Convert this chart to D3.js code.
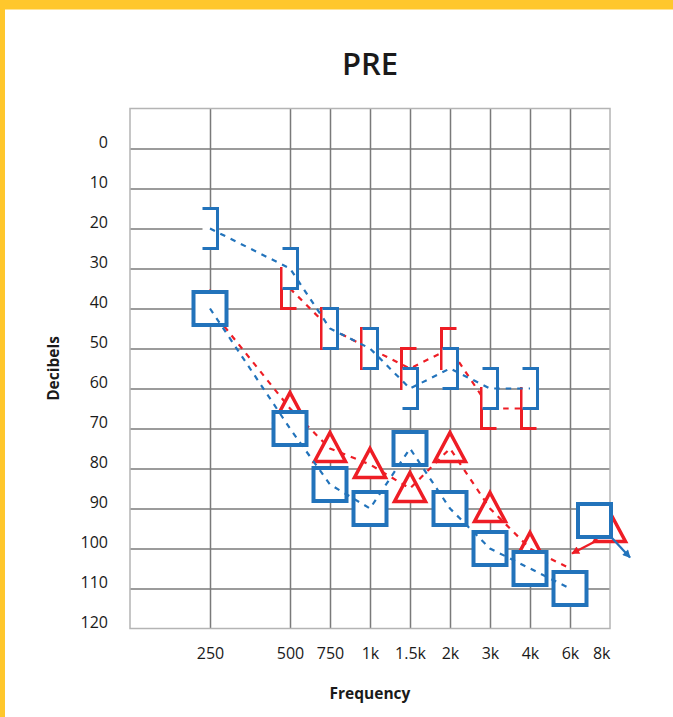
<!DOCTYPE html>
<html>
<head>
<meta charset="utf-8">
<script src="https://cdn.jsdelivr.net/npm/d3@7"></script>
<style>
  body { margin: 0; background: #fff; }
  text { font-family: "Open Sans", sans-serif; fill: #1a1a1a; }
</style>
</head>
<body>
<div id="chart"></div>
<script>
// frequency columns and labels
var freqs = [250, 500, 750, 1000, 1500, 2000, 3000, 4000, 6000, 8000];
var freqLabels = ["250", "500", "750", "1k", "1.5k", "2k", "3k", "4k", "6k", "8k"];
var dbTicks = [0, 10, 20, 30, 40, 50, 60, 70, 80, 90, 100, 110, 120];

// masked air conduction: blue squares, red triangles
var blueAirFreqs = [250, 500, 750, 1000, 1500, 2000, 3000, 4000, 6000];
var blueAirDb = [40, 70, 84, 90, 75, 90, 100, 105, 110];
var redAirFreqs = [250, 500, 750, 1000, 1500, 2000, 3000, 4000, 6000];
var redAirDb = [40, 65, 75, 79, 85, 75, 90, 100, 105];
var redTriangleFreqs = [250, 500, 750, 1000, 1500, 2000, 3000, 4000];

// masked bone conduction: blue "]", red "["
var blueBoneFreqs = [250, 500, 750, 1000, 1500, 2000, 3000, 4000];
var blueBoneDb = [20, 30, 45, 50, 60, 55, 60, 60];
var redBoneFreqs = [500, 750, 1000, 1500, 2000, 3000, 4000];
var redBoneDb = [35, 45, 50, 55, 50, 65, 65];

// no response points
var blueNoRespFreqs = [8000];
var blueNoRespDb = [93];
var redNoRespFreqs = [8000];
var redNoRespDb = [95];

var blue = "#2273bb";
var red = "#ee1d25";
var gridCol = "#7a7a7a";

var W = 673, H = 717;
var margin = {left: 130, top: 108.5};
var width = 480, height = 520;

var svg = d3.select("#chart").append("svg")
    .attr("width", W)
    .attr("height", H);

// yellow frame edges
svg.append("rect").attr("x", 0).attr("y", 0).attr("width", W).attr("height", 9.5).attr("fill", "#ffc72c");
svg.append("rect").attr("x", 0).attr("y", 0).attr("width", 5).attr("height", H).attr("fill", "#ffc72c");

svg.append("text")
    .attr("x", margin.left + width / 2)
    .attr("y", 75)
    .attr("text-anchor", "middle")
    .style("font-size", "31px")
    .style("font-weight", 600)
    .text("PRE");

// x: 125 Hz is the left edge, octave steps are 2 columns up to 500, then 1 column each
var xDomain = [125].concat(freqs);
var x = d3.scaleLinear()
    .domain(xDomain)
    .range(xDomain.map(function(f, i) { return (i <= 2 ? i * 2 : i + 2) * width / 12; }));

var y = d3.scaleLinear()
    .domain([-10, 120])
    .range([0, height]);

var main_g = svg.append("g")
    .attr("transform", "translate(" + margin.left + "," + margin.top + ")");

// grid
main_g.append("g")
    .call(d3.axisLeft(y).tickValues(dbTicks.slice(0, -1)).tickSize(-width).tickFormat(""))
    .call(function(g) { g.select(".domain").remove(); })
    .selectAll("line").attr("stroke", gridCol).attr("stroke-width", 1.5);

main_g.append("g")
    .attr("transform", "translate(0," + height + ")")
    .call(d3.axisBottom(x).tickValues(freqs.slice(0, -1)).tickSize(-height).tickFormat(""))
    .call(function(g) { g.select(".domain").remove(); })
    .selectAll("line").attr("stroke", gridCol).attr("stroke-width", 1.5);

main_g.append("rect")
    .attr("width", width)
    .attr("height", height)
    .attr("fill", "none")
    .attr("stroke", "#b4b4b4")
    .attr("stroke-width", 1.5);

// tick labels
var yAxis = main_g.append("g")
    .call(d3.axisLeft(y).tickValues(dbTicks).tickSize(0).tickPadding(22));
yAxis.select(".domain").remove();
yAxis.selectAll("text").attr("dy", "-1").style("font-size", "16px").attr("fill", "#1a1a1a");

var xAxis = main_g.append("g")
    .attr("transform", "translate(0," + height + ")")
    .call(d3.axisBottom(x).tickValues(freqs).tickSize(0).tickPadding(19)
        .tickFormat(function(d, i) { return freqLabels[i]; }));
xAxis.select(".domain").remove();
xAxis.selectAll("text").style("font-size", "16px").attr("fill", "#1a1a1a");
xAxis.selectAll("text").filter(function(d) { return d === 8000; }).attr("text-anchor", "end");

// axis titles
svg.append("text")
    .attr("transform", "translate(59," + (margin.top + height / 2) + ") rotate(-90)")
    .attr("text-anchor", "middle")
    .style("font-size", "15.5px")
    .style("font-weight", 700)
    .text("Decibels");

svg.append("text")
    .attr("x", margin.left + width / 2)
    .attr("y", 699)
    .attr("text-anchor", "middle")
    .style("font-size", "15.5px")
    .style("font-weight", 700)
    .text("Frequency");

function pts(fs, dbs) {
    return fs.map(function(f, i) { return [x(f), y(dbs[i])]; });
}

var line = d3.line();
var dash = "5.5,6";

// Bone conduction
var redBone = pts(redBoneFreqs, redBoneDb);
main_g.selectAll(".rbone").data(redBone).enter().append("path")
    .attr("class", "rbone")
    .attr("d", function(d) {
        return "M" + (d[0] + 6.5) + "," + (d[1] - 20) + "H" + (d[0] - 8.5) +
            "V" + (d[1] + 20) + "H" + (d[0] + 6.5);
    })
    .attr("fill", "none")
    .attr("stroke", red)
    .attr("stroke-width", 3);

main_g.append("path")
    .attr("d", line(redBone))
    .attr("fill", "none")
    .attr("stroke", red)
    .attr("stroke-width", 2.2)
    .attr("stroke-dasharray", dash);

var blueBone = pts(blueBoneFreqs, blueBoneDb);
main_g.selectAll(".bbone").data(blueBone).enter().append("path")
    .attr("class", "bbone")
    .attr("d", function(d) {
        return "M" + (d[0] - 7.5) + "," + (d[1] - 20) + "H" + (d[0] + 7.5) +
            "V" + (d[1] + 20) + "H" + (d[0] - 7.5) + "Z";
    })
    .attr("fill", "#fff")
    .attr("stroke", "none");
main_g.selectAll(".bbone2").data(blueBone).enter().append("path")
    .attr("class", "bbone2")
    .attr("d", function(d) {
        return "M" + (d[0] - 7.5) + "," + (d[1] - 20) + "H" + (d[0] + 7.5) +
            "V" + (d[1] + 20) + "H" + (d[0] - 7.5);
    })
    .attr("fill", "none")
    .attr("stroke", blue)
    .attr("stroke-width", 3);

main_g.append("path")
    .attr("d", line(blueBone))
    .attr("fill", "none")
    .attr("stroke", blue)
    .attr("stroke-width", 2.2)
    .attr("stroke-dasharray", dash);

// arrowheads
var defs = svg.append("defs");
[["arrRed", red], ["arrBlue", blue]].forEach(function(a) {
    defs.append("marker")
        .attr("id", a[0])
        .attr("viewBox", "0 0 10 10")
        .attr("refX", 9).attr("refY", 5)
        .attr("markerWidth", 10).attr("markerHeight", 8)
        .attr("markerUnits", "userSpaceOnUse")
        .attr("orient", "auto")
        .append("path")
        .attr("d", "M0,0L10,5L0,10Z")
        .attr("fill", a[1]);
});

function triPath(d) {
    return "M" + d[0] + "," + (d[1] - 16) + "L" + (d[0] + 15.5) + "," + (d[1] + 13) +
        "L" + (d[0] - 15.5) + "," + (d[1] + 13) + "Z";
}

// Air conduction, red
var redNR = pts(redNoRespFreqs, redNoRespDb);
main_g.selectAll(".rnr").data(redNR).enter().append("path")
    .attr("class", "rnr")
    .attr("d", triPath)
    .attr("fill", "#fff")
    .attr("stroke", red)
    .attr("stroke-width", 3.5);
main_g.selectAll(".rnra").data(redNR).enter().append("line")
    .attr("x1", function(d) { return d[0] - 15; })
    .attr("y1", function(d) { return d[1] + 13; })
    .attr("x2", function(d) { return d[0] - 38; })
    .attr("y2", function(d) { return d[1] + 25; })
    .attr("stroke", red)
    .attr("stroke-width", 2.2)
    .attr("marker-end", "url(#arrRed)");

var redAir = pts(redAirFreqs, redAirDb);
main_g.selectAll(".tri").data(pts(redTriangleFreqs, redAirDb)).enter().append("path")
    .attr("class", "tri")
    .attr("d", triPath)
    .attr("fill", "#fff")
    .attr("stroke", red)
    .attr("stroke-width", 3.5);

main_g.append("path")
    .attr("d", line(redAir))
    .attr("fill", "none")
    .attr("stroke", red)
    .attr("stroke-width", 2.2)
    .attr("stroke-dasharray", dash);

// Air conduction, blue
var sq = 33;
var blueAir = pts(blueAirFreqs, blueAirDb);
main_g.selectAll(".sq").data(blueAir).enter().append("rect")
    .attr("class", "sq")
    .attr("x", function(d) { return d[0] - sq / 2; })
    .attr("y", function(d) { return d[1] - sq / 2; })
    .attr("width", sq).attr("height", sq)
    .attr("fill", "#fff")
    .attr("stroke", blue)
    .attr("stroke-width", 4);

var blueNR = pts(blueNoRespFreqs, blueNoRespDb);
main_g.selectAll(".bnr").data(blueNR).enter().append("rect")
    .attr("x", function(d) { return d[0] - 15.5 - sq / 2; })
    .attr("y", function(d) { return d[1] - sq / 2; })
    .attr("width", sq).attr("height", sq)
    .attr("fill", "#fff")
    .attr("stroke", blue)
    .attr("stroke-width", 4);
main_g.selectAll(".bnra").data(blueNR).enter().append("line")
    .attr("x1", function(d) { return d[0] - 15.5 + sq / 2 + 1; })
    .attr("y1", function(d) { return d[1] + sq / 2 + 1; })
    .attr("x2", function(d) { return d[0] + 20; })
    .attr("y2", function(d) { return d[1] + 37; })
    .attr("stroke", blue)
    .attr("stroke-width", 2.2)
    .attr("marker-end", "url(#arrBlue)");

main_g.append("path")
    .attr("d", line(blueAir))
    .attr("fill", "none")
    .attr("stroke", blue)
    .attr("stroke-width", 2.2)
    .attr("stroke-dasharray", dash);
</script>
</body>
</html>
